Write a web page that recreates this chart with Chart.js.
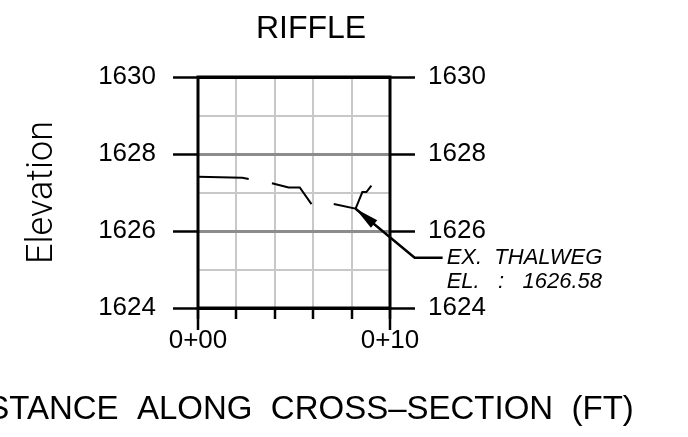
<!DOCTYPE html>
<html>
<head>
<meta charset="utf-8">
<script src="https://cdn.jsdelivr.net/npm/chart.js@4"></script>
<style>
body{margin:0;background:#fff;}
</style>
</head>
<body>
<canvas id="riffleChart" width="688" height="437"></canvas>
<script>

// ground profile, split where the survey has gaps

const seg1X = [0, 2.31, 2.64];
const seg1Y = [1627.41, 1627.38, 1627.35];

const seg2X = [3.85, 4.72, 5.30, 5.91];
const seg2Y = [1627.24, 1627.13, 1627.13, 1626.70];

const seg3X = [7.07, 8.21, 8.56, 8.77, 9.03];
const seg3Y = [1626.70, 1626.58, 1627.01, 1627.01, 1627.18];

const thalwegX = 8.21;
const thalwegY = 1626.58;

const stationValues = [0, 10];
const stationLabels = ['0+00', '0+10'];

const elevMin = 1624;
const elevMax = 1630;

const xAxisTitle = 'DISTANCE  ALONG  CROSS\u2013SECTION  (FT)';


function toPoints(xs, ys){
return xs.map((x,i)=>({x:x, y:ys[i]}));
}

function segment(xs, ys){
return {
data:toPoints(xs, ys),
showLine:true,
borderColor:'#000',
borderWidth:2,
pointRadius:0,
tension:0
};
}

const isEven = v => Math.round(v) % 2 === 0;
const tickVal = c => c.tick ? c.tick.value : 0;


// frame, end ticks, titles and the thalweg callout

const drawingExtras = {
id:'drawingExtras',
beforeDatasetsDraw(chart){
const {ctx, chartArea:a} = chart;
const xs = chart.scales.x;
ctx.save();
ctx.strokeStyle = '#000';
ctx.lineWidth = 3;
ctx.strokeRect(a.left, a.top, a.right - a.left, a.bottom - a.top);
ctx.lineWidth = 2.5;
stationValues.forEach(v=>{
let px = xs.getPixelForValue(v);
ctx.beginPath();
ctx.moveTo(px, a.bottom);
ctx.lineTo(px, a.bottom + 22);
ctx.stroke();
});
ctx.restore();
},
afterDatasetsDraw(chart){
const ctx = chart.ctx;
const a = chart.chartArea;
const px = chart.scales.x.getPixelForValue(thalwegX);
const py = chart.scales.y.getPixelForValue(thalwegY);
const ex = px + 59, ey = py + 49;

ctx.save();
ctx.strokeStyle = '#000';
ctx.fillStyle = '#000';
ctx.lineWidth = 2.5;
ctx.beginPath();
ctx.moveTo(px, py);
ctx.lineTo(ex, ey);
ctx.lineTo(ex + 28, ey);
ctx.stroke();

// arrow head
let dx = ex - px, dy = ey - py;
let len = Math.sqrt(dx*dx + dy*dy);
dx /= len; dy /= len;
let hl = 24, hw = 5;
ctx.beginPath();
ctx.moveTo(px, py);
ctx.lineTo(px + dx*hl - dy*hw, py + dy*hl + dx*hw);
ctx.lineTo(px + dx*hl + dy*hw, py + dy*hl - dx*hw);
ctx.closePath();
ctx.fill();

ctx.font = 'italic 22px "Liberation Sans", Arial, sans-serif';
ctx.textBaseline = 'middle';
ctx.textAlign = 'left';
ctx.fillText('EX.  THALWEG', ex + 32, ey);
ctx.fillText('EL.   :   ' + thalwegY.toFixed(2), ex + 32, ey + 24);

// sheet title
ctx.font = '32px "Liberation Sans", Arial, sans-serif';
ctx.textAlign = 'center';
ctx.textBaseline = 'alphabetic';
ctx.fillText('RIFFLE', 311, 38);

// x axis title (wider than the canvas, so drawn here unsqueezed)
ctx.font = '33px "Liberation Sans", Arial, sans-serif';
ctx.textBaseline = 'middle';
ctx.fillText(xAxisTitle, (a.left + a.right) / 2, 410);
ctx.restore();
}
};


const elevGrid = {
color:c=>{
let v = tickVal(c);
if(v === elevMin || v === elevMax) return '#000';
return isEven(v) ? '#8c8c8c' : '#c8c8c8';
},
lineWidth:c=> isEven(tickVal(c)) ? 3 : 2,
tickColor:c=> isEven(tickVal(c)) ? '#000' : 'rgba(0,0,0,0)',
tickWidth:2.5,
tickLength:25
};

const elevTicks = pad => ({
stepSize:1,
autoSkip:false,
padding:pad,
color:'#000',
font:{family:'"Liberation Sans", Arial, sans-serif', size:26},
callback:v=> isEven(v) ? String(v) : ''
});


const ctx = document.getElementById('riffleChart').getContext('2d');

new Chart(ctx,{

type:'scatter',

data:{
datasets:[
segment(seg1X, seg1Y),
segment(seg2X, seg2Y),
segment(seg3X, seg3Y)
]
},

options:{

responsive:false,
animation:false,
devicePixelRatio:1,

layout:{
padding:{top:77, left:0, right:0, bottom:0}
},

plugins:{
legend:{display:false},
tooltip:{enabled:false}
},

scales:{

x:{
type:'linear',
min:0,
max:10,
afterFit:s=>{ s.height = 129; },
border:{display:false},
grid:{
color:c=>{
let v = tickVal(c);
return (v === 0 || v === 10) ? '#000' : '#c8c8c8';
},
lineWidth:2,
tickColor:'#000',
tickWidth:2.5,
tickLength:11
},
ticks:{
stepSize:2,
autoSkip:false,
padding:6,
color:'#000',
maxRotation:0,
font:{family:'"Liberation Sans", Arial, sans-serif', size:26},
callback:v=>{
let i = stationValues.indexOf(v);
return i >= 0 ? stationLabels[i] : '';
}
}
},

y:{
type:'linear',
position:'left',
min:elevMin,
max:elevMax,
afterFit:s=>{ s.width = 198; },
border:{display:false},
grid:elevGrid,
ticks:elevTicks(17),
title:{
display:true,
text:'Elevation',
color:'#000',
font:{family:'Roboto, "Liberation Sans", sans-serif', size:36, weight:300},
padding:{top:21, bottom:0}
}
},

y2:{
type:'linear',
position:'right',
min:elevMin,
max:elevMax,
afterFit:s=>{ s.width = 298; },
border:{display:false},
grid:Object.assign({}, elevGrid, {drawOnChartArea:false}),
ticks:elevTicks(13)
}

}

},

plugins:[drawingExtras]

});

</script>
</body>
</html>
